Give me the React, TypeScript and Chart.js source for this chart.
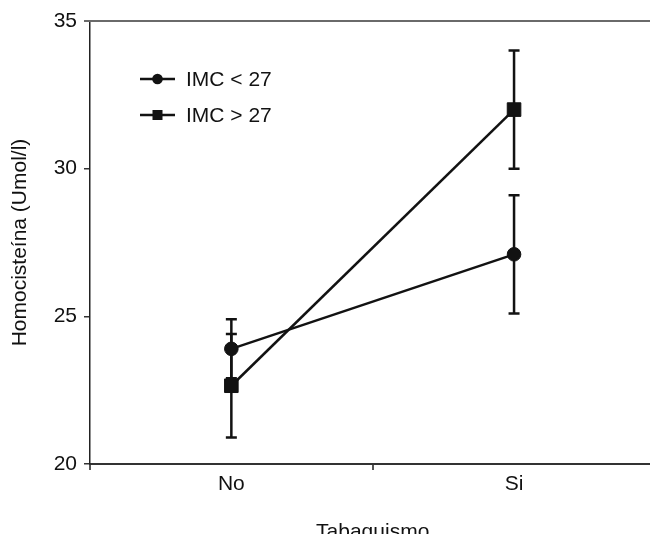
import React, { useEffect, useRef } from "react";
import { Chart, registerables } from "chart.js";

Chart.register(...registerables);

const categories = ["No", "Si"];
const seriesLabels = ["IMC < 27", "IMC > 27"];
const imcLow = [23.9, 27.1];
const imcLowErr = [1.0, 2.0];
const imcHigh = [22.65, 32.0];
const imcHighErr = [1.75, 2.0];
const yTicks = [20, 25, 30, 35];
const xTitle = "Tabaquismo";
const yTitle = "Homocisteína (Umol/l)";

const FONT = "'Liberation Sans', Arial, sans-serif";
const INK = "#121212";
const FSIZE = 21;

const errorBarPlugin = {
  id: "errorBars",
  beforeDatasetsDraw(chart: any) {
    const ctx = chart.ctx;
    const yScale = chart.scales.y;
    chart.data.datasets.forEach((ds: any, di: number) => {
      const meta = chart.getDatasetMeta(di);
      const errs: number[] = ds.errors || [];
      meta.data.forEach((pt: any, i: number) => {
        const v = ds.data[i];
        const e = errs[i];
        if (v == null || e == null) return;
        const x = pt.x;
        const yT = yScale.getPixelForValue(v + e);
        const yB = yScale.getPixelForValue(v - e);
        ctx.save();
        ctx.strokeStyle = INK;
        ctx.lineWidth = 2.5;
        ctx.beginPath();
        ctx.moveTo(x, yT);
        ctx.lineTo(x, yB);
        ctx.moveTo(x - 5.5, yT);
        ctx.lineTo(x + 5.5, yT);
        ctx.moveTo(x - 5.5, yB);
        ctx.lineTo(x + 5.5, yB);
        ctx.stroke();
        ctx.restore();
      });
    });
  },
};

const frameLegendPlugin = {
  id: "frameLegend",
  beforeDatasetsDraw(chart: any) {
    const { ctx, chartArea } = chart;
    ctx.save();
    ctx.strokeStyle = "#6a6a6a";
    ctx.lineWidth = 2;
    ctx.beginPath();
    ctx.moveTo(chartArea.left - 6, chartArea.top);
    ctx.lineTo(chartArea.right, chartArea.top);
    ctx.stroke();
    ctx.restore();
  },
  afterDraw(chart: any) {
    const { ctx, chartArea } = chart;
    ctx.save();
    chart.data.datasets.forEach((ds: any, i: number) => {
      const y = chartArea.top + 58 + i * 36;
      const x0 = chartArea.left + 50;
      const x1 = chartArea.left + 85;
      const xm = (x0 + x1) / 2;
      ctx.strokeStyle = INK;
      ctx.lineWidth = 2.5;
      ctx.beginPath();
      ctx.moveTo(x0, y);
      ctx.lineTo(x1, y);
      ctx.stroke();
      ctx.fillStyle = INK;
      if (ds.pointStyle === "circle") {
        ctx.beginPath();
        ctx.arc(xm, y, 5.3, 0, Math.PI * 2);
        ctx.fill();
      } else {
        ctx.fillRect(xm - 5, y - 5, 10, 10);
      }
      ctx.font = `${FSIZE}px ${FONT}`;
      ctx.textBaseline = "middle";
      ctx.textAlign = "left";
      ctx.fillText(ds.label, chartArea.left + 96, y + 1);
    });
    ctx.restore();
  },
};

export default function App() {
  const canvasRef = useRef<HTMLCanvasElement | null>(null);

  useEffect(() => {
    const canvas = canvasRef.current;
    if (!canvas) return;
    const chart = new Chart(canvas, {
      type: "line",
      data: {
        labels: categories,
        datasets: [
          {
            label: seriesLabels[0],
            data: imcLow,
            errors: imcLowErr,
            borderColor: INK,
            backgroundColor: INK,
            borderWidth: 2.5,
            pointStyle: "circle",
            pointRadius: 6.8,
            pointBorderWidth: 1,
            pointBackgroundColor: INK,
            pointBorderColor: INK,
            tension: 0,
          } as any,
          {
            label: seriesLabels[1],
            data: imcHigh,
            errors: imcHighErr,
            borderColor: INK,
            backgroundColor: INK,
            borderWidth: 2.5,
            pointStyle: "rect",
            pointRadius: 9.6,
            pointBorderWidth: 1,
            pointBackgroundColor: INK,
            pointBorderColor: INK,
            tension: 0,
          } as any,
        ],
      },
      options: {
        responsive: false,
        animation: false,
        devicePixelRatio: 1,
        layout: { padding: { left: 0, top: 21, right: 10, bottom: 15 } },
        plugins: {
          legend: { display: false },
          tooltip: { enabled: false },
        },
        scales: {
          x: {
            type: "category",
            offset: true,
            afterFit: (s: any) => {
              s.height = 81;
            },
            grid: {
              offset: true,
              drawOnChartArea: false,
              drawTicks: true,
              tickLength: 6,
              color: "#555",
              lineWidth: 2,
            },
            border: { display: true, color: "#333", width: 2 },
            ticks: {
              color: "#111",
              font: { family: FONT, size: FSIZE },
              padding: 2,
              maxRotation: 0,
            },
            title: {
              display: true,
              text: xTitle,
              color: "#111",
              font: { family: FONT, size: FSIZE },
              padding: { top: 0, bottom: 0 },
            },
          },
          y: {
            min: 20,
            max: 35,
            afterFit: (s: any) => {
              s.width = 90;
            },
            afterBuildTicks: (s: any) => {
              s.ticks = yTicks.map((v) => ({ value: v }));
            },
            grid: {
              drawOnChartArea: false,
              drawTicks: true,
              tickLength: 6,
              color: "#333",
              lineWidth: 1.5,
            },
            border: { display: true, color: "#222", width: 1.5 },
            ticks: {
              color: "#111",
              font: { family: FONT, size: FSIZE },
              padding: 7,
            },
            title: {
              display: true,
              text: yTitle,
              color: "#111",
              font: { family: FONT, size: FSIZE },
              padding: { top: 8, bottom: 0 },
            },
          },
        },
      },
      plugins: [errorBarPlugin, frameLegendPlugin],
    } as any);
    return () => chart.destroy();
  }, []);

  return (
    <div
      style={{
        position: "absolute",
        left: 0,
        top: 0,
        width: 650,
        height: 534,
        overflow: "hidden",
        background: "#fff",
      }}
    >
      <canvas
        ref={canvasRef}
        width={666}
        height={560}
        style={{ display: "block", width: 666, height: 560 }}
      />
    </div>
  );
}
